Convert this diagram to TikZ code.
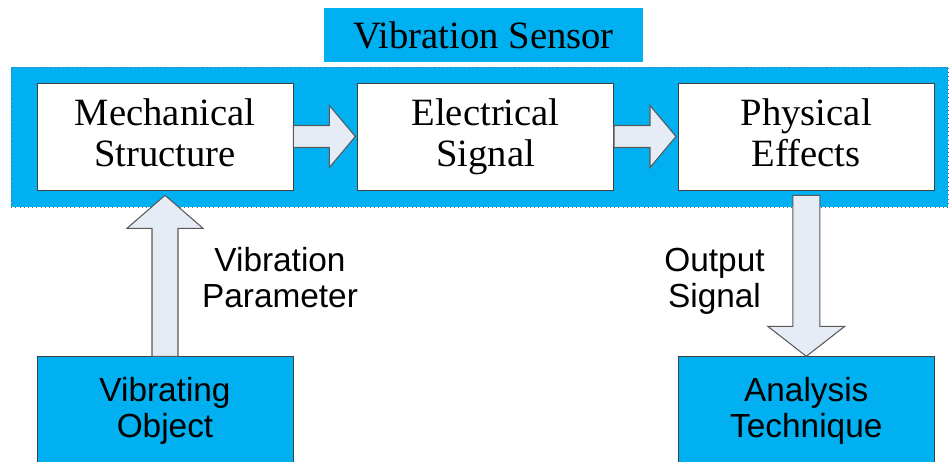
\documentclass[tikz,border=0pt]{standalone}
\usepackage{fontspec}
\setmainfont{Liberation Serif}
\newfontfamily\arialfont{Liberation Sans}
\usetikzlibrary{positioning,calc}
\definecolor{sensorblue}{RGB}{0,176,240}
\definecolor{arrowfill}{RGB}{230,236,246}
\tikzset{
stage/.style={rectangle, draw=black!75, fill=white, minimum width=5.12cm, minimum height=2.14cm, align=center, font=\fontsize{22}{23.3}\selectfont, text height=34.6pt, text depth=0pt},
endpoint/.style={rectangle, draw=black!75, fill=sensorblue, minimum width=5.12cm, minimum height=2.2cm, align=center, font=\arialfont\fontsize{19}{20.5}\selectfont, text height=29.5pt, text depth=0pt},
housing/.style={rectangle, draw=black!60, dotted, fill=sensorblue, minimum width=18.74cm, minimum height=2.8cm},
headerbox/.style={rectangle, fill=sensorblue, minimum width=6.38cm, minimum height=1.08cm, font=\fontsize{22}{23.3}\selectfont},
sidenote/.style={align=center, font=\arialfont\fontsize{19}{20.5}\selectfont, text height=0pt, text depth=0pt},
blockarrow/.style={draw=black!65, fill=arrowfill, line width=0.6pt},
}
\begin{document}
\begin{tikzpicture}[x=0.02cm,y=-0.02cm]
\path[use as bounding box, clip] (0,0) rectangle (949,462);

\node[housing](sensor_box) at (479.5,137) {};
\node[headerbox](sensor_title) at (483.5,35) {Vibration Sensor};

\node[stage](mechanical_structure) at (165,136.5) {Mechanical\\Structure};
\node[stage, right=1.28cm of mechanical_structure](electrical_signal) {Electrical\\Signal};
\node[stage, right=1.28cm of electrical_signal](physical_effects) {Physical\\Effects};
\node[endpoint, below=3.32cm of mechanical_structure](vibrating_object) {Vibrating\\Object};
\node[endpoint, below=3.32cm of physical_effects](analysis_technique) {Analysis\\Technique};

\node[sidenote](vibration_parameter) at (280,308) {Vibration\\Parameter};
\node[sidenote](output_signal) at (714.5,308) {Output\\Signal};

\draw [blockarrow] ($(mechanical_structure.east)+(0,-11)$) -- ++(36,0) -- ++(0,-20) -- ($(electrical_signal.west)+(-2,0)$) -- ($(mechanical_structure.east)+(36,31)$) -- ++(0,-20) -- ($(mechanical_structure.east)+(0,11)$) -- cycle;
\draw [blockarrow] ($(electrical_signal.east)+(0,-11)$) -- ++(36,0) -- ++(0,-20) -- ($(physical_effects.west)+(-2,0)$) -- ($(electrical_signal.east)+(36,31)$) -- ++(0,-20) -- ($(electrical_signal.east)+(0,11)$) -- cycle;

\draw [blockarrow] ($(vibrating_object.north)+(-13,0)$) -- ++(0,-128) -- ++(-25,0) -- ($(mechanical_structure.south)+(0,5)$) -- ($(vibrating_object.north)+(38,-128)$) -- ++(-25,0) -- ($(vibrating_object.north)+(13,0)$) -- cycle;
\draw [blockarrow] ($(physical_effects.south)+(-13.5,5)$) -- ($(physical_effects.south)+(13.5,5)$) -- ($(analysis_technique.north)+(13.5,-30)$) -- ++(25,0) -- (analysis_technique.north) -- ($(analysis_technique.north)+(-38.5,-30)$) -- ++(25,0) -- cycle;
\end{tikzpicture}
\end{document}
